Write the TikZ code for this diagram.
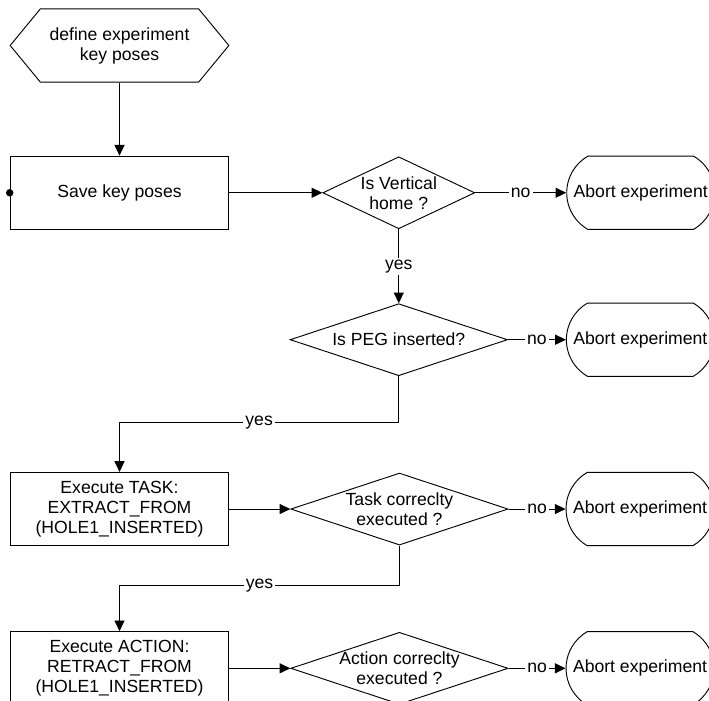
\documentclass[tikz,border=0pt]{standalone}
\usepackage{fontspec}
\setmainfont{Liberation Sans}
\usepackage{tikz}
\usetikzlibrary{positioning,arrows.meta,shapes.geometric,shapes.misc,shapes.symbols}
\tikzset{
  node-hex/.style={draw,signal,signal to=west and east,signal pointer angle=101,
    minimum width=164pt,minimum height=55pt,inner sep=0pt},
  node-box/.style={draw,rectangle,minimum width=164pt,minimum height=55pt,
    inner sep=0pt,align=center},
  node-decision/.style={draw,diamond,minimum width=163pt,minimum height=54pt,
    inner sep=0pt},
  node-term/.style={draw,rounded rectangle,rounded rectangle arc length=120,
    minimum width=111pt,minimum height=55pt,inner sep=0pt,
    label=center:Abort experiment},
  arrow/.style={-{Triangle[length=8pt,width=7.5pt]}},
  edge-label/.style={fill=white,inner sep=1.5pt},
}

\begin{document}
\begin{tikzpicture}[x=0.75pt,y=-0.75pt,line width=0.7pt,
    every node/.style={font=\fontsize{13.2pt}{15pt}\selectfont},
    every label/.style={align=center,font=\fontsize{13.2pt}{15pt}\selectfont}]
  \useasboundingbox (0,0) rectangle (709,700);
  \clip (0,0) rectangle (709,700);
  % start
  \node[node-hex,label={center:{define experiment\\key poses}}] (start) at (119.5,45.5) {};
  \node[node-box,below=54.75pt of start]  (save)   {Save key poses};
  \fill (save.west) circle (2.8pt);
  % row 1
  \node[node-decision,minimum width=114pt,right=69.75pt of save,
    label={center:{Is Vertical\\home ?}}]                      (vert)   {};
  \node[node-term,right=68.25pt of vert]                        (abort1) {};
  % row 2
  \node[node-decision,below=55.5pt of vert,
    label={center:Is PEG inserted?}]                            (peg)    {};
  \node[node-term,right=43.5pt of peg]                          (abort2) {};
  % row 3
  \node[node-box,below=181.5pt of save] (task)   {Execute TASK:\\EXTRACT\_FROM\\(HOLE1\_INSERTED)};
  \node[node-decision,right=45.75pt of task,
    label={center:{Task correclty\\executed ?}}]                (taskok) {};
  \node[node-term,right=42.75pt of taskok]                      (abort3) {};
  % row 4
  \node[node-box,below=63.75pt of task] (action) {Execute ACTION:\\RETRACT\_FROM\\(HOLE1\_INSERTED)};
  \node[node-decision,right=45.75pt of action,
    label={center:{Action correclty\\executed ?}}]              (actok)  {};
  \node[node-term,right=42.75pt of actok]                       (abort4) {};
  % connectors
  \draw[arrow] (start) -- (save);
  \draw[arrow] (save) -- (vert);
  \draw[arrow] (vert) -- node[edge-label]{no} (abort1);
  \draw[arrow] (vert) -- node[edge-label]{yes} (peg);
  \draw[arrow] (peg) -- node[edge-label]{no} (abort2);
  \draw[arrow] (peg.south) -- ++(0,46) -| node[edge-label,pos=0.25]{yes} (task.north);
  \draw[arrow] (task) -- (taskok);
  \draw[arrow] (taskok) -- node[edge-label]{no} (abort3);
  \draw[arrow] (taskok.south) -- ++(0,40) -| node[edge-label,pos=0.25]{yes} (action.north);
  \draw[arrow] (action) -- (actok);
  \draw[arrow] (actok) -- node[edge-label]{no} (abort4);
\end{tikzpicture}
\end{document}
